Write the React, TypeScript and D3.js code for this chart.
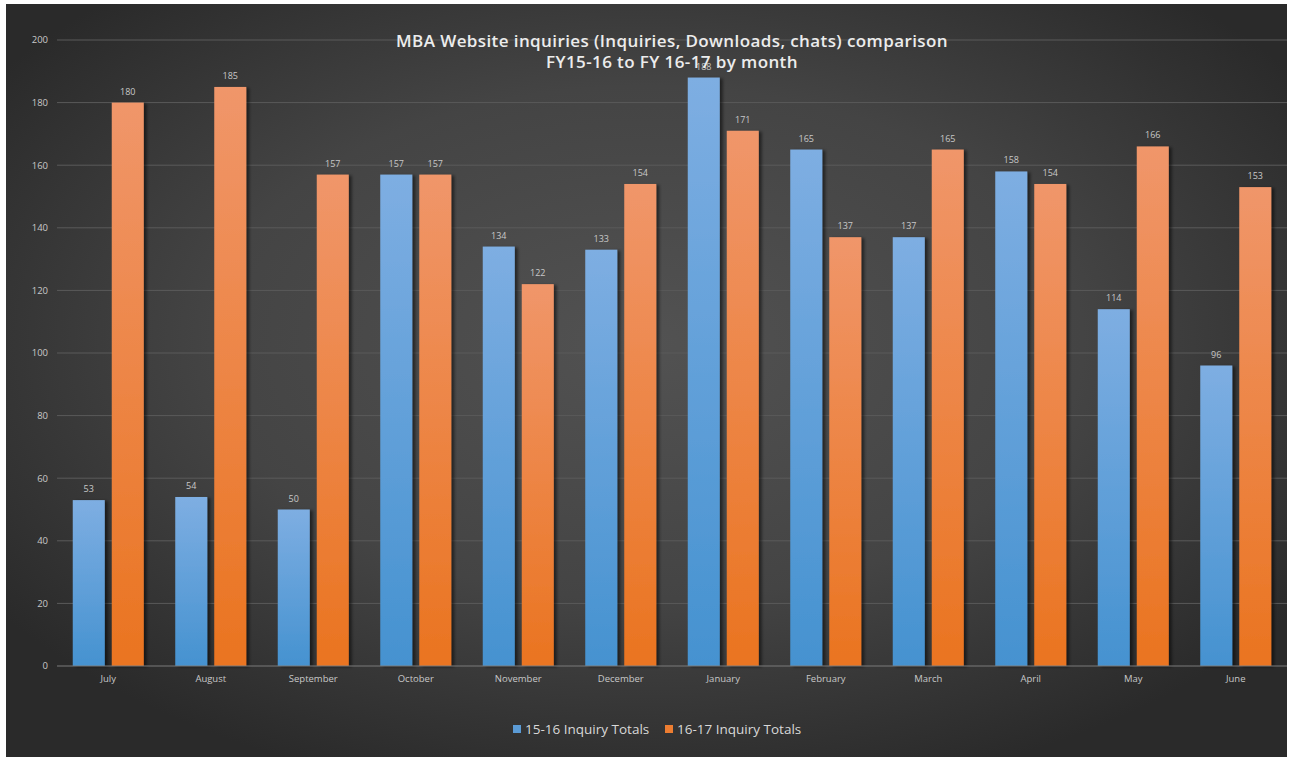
import React from "react";
import * as d3 from "d3";

const months = ["July","August","September","October","November","December","January","February","March","April","May","June"];
const fy1516 = [53,54,50,157,134,133,188,165,137,158,114,96];
const fy1617 = [180,185,157,157,122,154,171,137,165,154,166,153];
const yTicks = [0,20,40,60,80,100,120,140,160,180,200];
const seriesNames = ["15-16 Inquiry Totals","16-17 Inquiry Totals"];
const titleLines = ["MBA Website inquiries (Inquiries, Downloads, chats) comparison","FY15-16 to FY 16-17 by month"];

const W = 1291, H = 759;
const frame = { x: 6, y: 4, w: 1281, h: 753 };
const plot = { left: 57, right: 1287, top: 40, bottom: 666 };
const font = "'Open Sans', sans-serif";

export default function App() {
  const x = d3.scaleBand<string>().domain(months).range([plot.left, plot.right]).paddingInner(0).paddingOuter(0);
  const y = d3.scaleLinear().domain([0, 200]).range([plot.bottom, plot.top]);
  const bw = 32, gap = 7;
  const series = [fy1516, fy1617];
  const grads = ["gBlue", "gOrange"];
  return (
    <svg width={W} height={H} style={{ position: "absolute", left: 0, top: 0, display: "block" }}>
      <defs>
        <radialGradient id="bg" cx="0.5" cy="0.45" r="0.62">
          <stop offset="0" stopColor="#525252" />
          <stop offset="0.55" stopColor="#444444" />
          <stop offset="1" stopColor="#2a2a2a" />
        </radialGradient>
        <linearGradient id="gBlue" x1="0" y1="0" x2="0" y2="1">
          <stop offset="0" stopColor="#7eaee2" />
          <stop offset="1" stopColor="#4592d0" />
        </linearGradient>
        <linearGradient id="gOrange" x1="0" y1="0" x2="0" y2="1">
          <stop offset="0" stopColor="#f0966a" />
          <stop offset="1" stopColor="#ea7420" />
        </linearGradient>
        <filter id="shadow" x="-20%" y="-5%" width="150%" height="110%">
          <feDropShadow dx="3" dy="1" stdDeviation="1.5" floodColor="#000" floodOpacity="0.5" />
        </filter>
      </defs>
      <rect x={0} y={0} width={W} height={H} fill="#ffffff" />
      <rect x={frame.x} y={frame.y} width={frame.w} height={frame.h} fill="url(#bg)" />
      {yTicks.map(t => (
        <g key={t}>
          {t > 0 && <line x1={plot.left} x2={plot.right} y1={y(t)} y2={y(t)} stroke="#5a5a5a" strokeWidth={1} />}
          <text x={48} y={y(t)} dy="0.35em" textAnchor="end" fill="#c8c8c8" fontSize={9.5} fontFamily={font}>{t}</text>
        </g>
      ))}
      {series.map((vals, si) => (
        <g key={si}>
          {vals.map((v, i) => {
            const cx = (x(months[i]) as number) + x.bandwidth() / 2;
            const bx = si === 0 ? cx - gap / 2 - bw : cx + gap / 2;
            return (
              <g key={i}>
                <rect x={bx} y={y(v)} width={bw} height={y(0) - y(v)} fill={`url(#${grads[si]})`} filter="url(#shadow)" />
                <text x={bx + bw / 2} y={y(v) - 8} textAnchor="middle" fill="#c8c8c8" fontSize={9} fontFamily={font}>{v}</text>
              </g>
            );
          })}
        </g>
      ))}
      <line x1={plot.left} x2={plot.right} y1={y(0)} y2={y(0)} stroke="#7a7a7a" strokeWidth={1.2} />
      {months.map(m => (
        <text key={m} x={(x(m) as number) + x.bandwidth() / 2} y={682} textAnchor="middle" fill="#c8c8c8" fontSize={9.5} fontFamily={font}>{m}</text>
      ))}
      {titleLines.map((t, i) => (
        <text key={i} x={672} y={47 + i * 21} textAnchor="middle" fill="#ececec" fontSize={17} fontWeight={600} letterSpacing={0.4} fontFamily={font}>{t}</text>
      ))}
      {seriesNames.map((n, i) => {
        const lx = i === 0 ? 513 : 665;
        return (
          <g key={n}>
            <rect x={lx} y={725} width={8} height={8} fill={i === 0 ? "#5b9bd5" : "#ed7d31"} />
            <text x={lx + 12} y={729} dy="0.35em" fill="#d8d8d8" fontSize={13.5} fontFamily={font}>{n}</text>
          </g>
        );
      })}
    </svg>
  );
}
